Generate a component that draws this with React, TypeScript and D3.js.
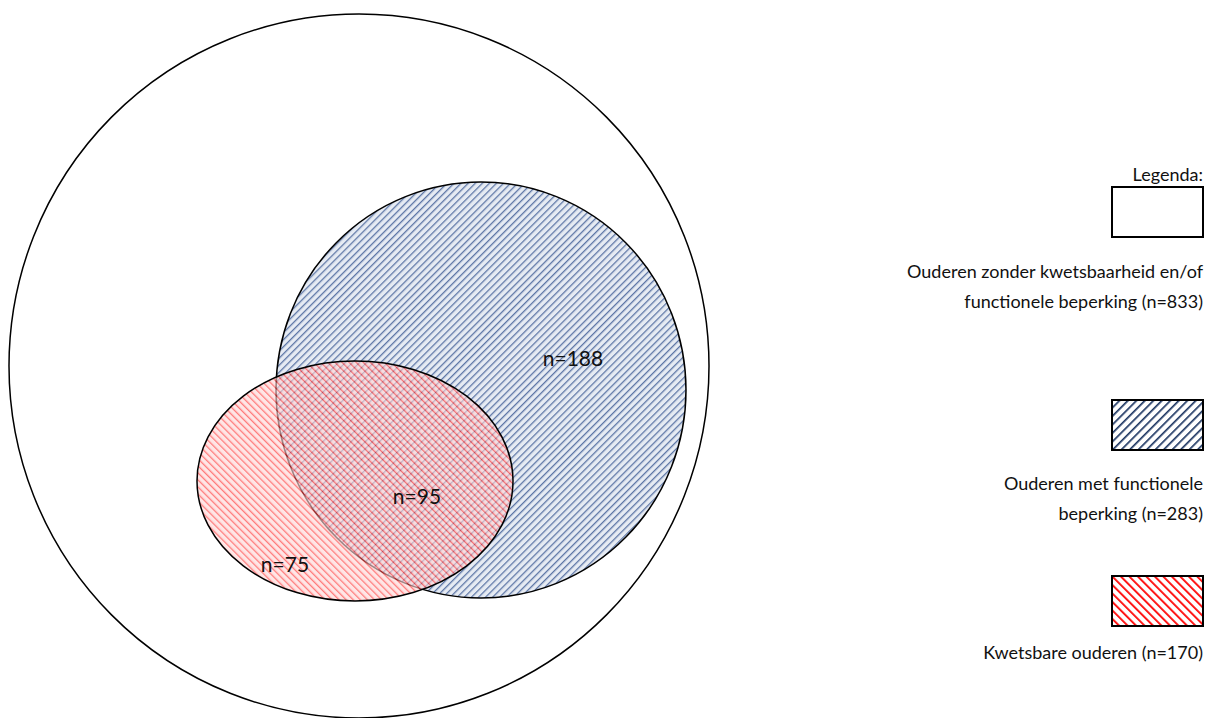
import * as d3 from 'd3';

// groups and their counts
const groupLabels = [
  ['Ouderen zonder kwetsbaarheid en/of', 'functionele beperking (n=833)'],
  ['Ouderen met functionele', 'beperking (n=283)'],
  ['Kwetsbare ouderen (n=170)'],
];
const groupTotals = [833, 283, 170];
const regionLabels = ['n=188', 'n=95', 'n=75'];
const legendTitle = 'Legenda:';

const W = 1215;
const H = 718;
const FONT = 'Lato, "Open Sans", sans-serif';

// ellipse geometry (pixels)
const shapes = [
  { cx: 359, cy: 366, rx: 350, ry: 352, fill: 'white' },
  { cx: 481, cy: 390, rx: 205, ry: 208, fill: 'url(#hatchBlue)', opacity: 1 },
  { cx: 355, cy: 481, rx: 158, ry: 120, fill: 'url(#hatchRed)', opacity: 0.62 },
];
const labelPos = [
  { x: 573, y: 366 },
  { x: 417, y: 504 },
  { x: 285, y: 572 },
];

const legendX = 1203;
const boxW = 91;
const boxH = 50;
const boxTop = [187, 400, 576];
const textTop = [278, 490, 659];

const App = () => {
  const lineH = d3.scaleLinear().domain([0, 1]).range([0, 30]);
  const legendFills = ['white', 'url(#legBlue)', 'url(#legRed)'];
  return (
    <svg width={W} height={H} style={{ position: 'absolute', left: 0, top: 0, background: 'white' }}>
      <defs>
        <pattern id="hatchBlue" patternUnits="userSpaceOnUse" width="5" height="5" patternTransform="rotate(45)">
          <rect width="5" height="5" fill="#e6ebf3" />
          <line x1="0" y1="0" x2="0" y2="5" stroke="#5d76a6" strokeWidth="2.6" />
        </pattern>
        <pattern id="hatchRed" patternUnits="userSpaceOnUse" width="5" height="5" patternTransform="rotate(-45)">
          <rect width="5" height="5" fill="#ffd6d6" />
          <line x1="0" y1="0" x2="0" y2="5" stroke="#ff2a2a" strokeWidth="2.6" />
        </pattern>
        <pattern id="legBlue" patternUnits="userSpaceOnUse" width="6" height="6" patternTransform="rotate(45)">
          <rect width="6" height="6" fill="white" />
          <line x1="0" y1="0" x2="0" y2="6" stroke="#1f3864" strokeWidth="3.4" />
        </pattern>
        <pattern id="legRed" patternUnits="userSpaceOnUse" width="6" height="6" patternTransform="rotate(-45)">
          <rect width="6" height="6" fill="white" />
          <line x1="0" y1="0" x2="0" y2="6" stroke="#ff0000" strokeWidth="3.6" />
        </pattern>
      </defs>

      {shapes.map((s, i) => (
        <ellipse
          key={i}
          cx={s.cx}
          cy={s.cy}
          rx={s.rx}
          ry={s.ry}
          fill={s.fill}
          fillOpacity={s.opacity ?? 1}
          stroke="black"
          strokeWidth={1.5}
        />
      ))}

      {regionLabels.map((t, i) => (
        <text key={t} x={labelPos[i].x} y={labelPos[i].y} textAnchor="middle" fontFamily={FONT} fontSize={21} fill="#111">
          {t}
        </text>
      ))}

      <text x={legendX} y={181} textAnchor="end" fontFamily={FONT} fontSize={18} fill="#111">
        {legendTitle}
      </text>

      {groupTotals.map((n, i) => (
        <g key={n}>
          <rect x={legendX - boxW} y={boxTop[i]} width={boxW} height={boxH} fill={legendFills[i]} stroke="black" strokeWidth={2} />
          {groupLabels[i].map((line, j) => (
            <text key={j} x={legendX} y={textTop[i] + lineH(j)} textAnchor="end" fontFamily={FONT} fontSize={18} fill="#111">
              {line}
            </text>
          ))}
        </g>
      ))}
    </svg>
  );
};

export default App;
